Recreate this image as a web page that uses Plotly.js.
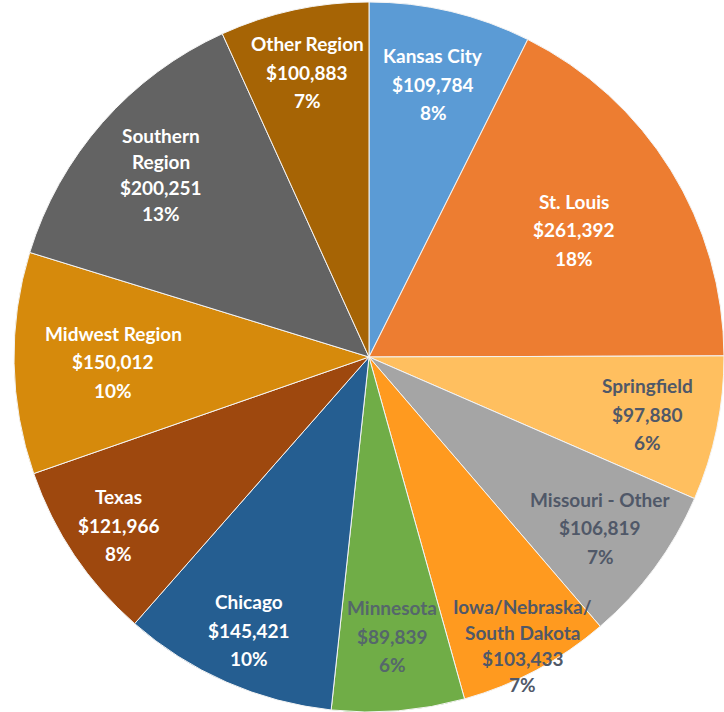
<!DOCTYPE html>
<html>
<head>
<meta charset="utf-8">
<script src="https://cdn.plot.ly/plotly-3.0.1.min.js"></script>
<style>
  html, body { margin: 0; padding: 0; background: #fff; }
  #pie { width: 724px; height: 712px; }
</style>
</head>
<body>
<div id="pie"></div>
<script>
// slices clockwise from 12 o'clock
const regions = ['Kansas City', 'St. Louis', 'Springfield', 'Missouri - Other',
    'Iowa/Nebraska/<br>South Dakota', 'Minnesota', 'Chicago', 'Texas',
    'Midwest Region', 'Southern<br>Region', 'Other Region'];
const sales = [109784, 261392, 97880, 106819, 103433, 89839, 145421, 121966, 150012, 200251, 100883];
const pctLabels = ['8%', '18%', '6%', '7%', '7%', '6%', '10%', '8%', '10%', '13%', '7%'];

// styling
const sliceColors = ['#5B9BD5', '#ED7D31', '#FFBF5F', '#A5A5A5', '#FF9A1F', '#70AD47',
    '#255E91', '#9E480E', '#D68A0C', '#636363', '#A66405'];
const textColors = ['#fff', '#fff', '#505868', '#505868', '#505868', '#55676B',
    '#fff', '#fff', '#fff', '#fff', '#fff'];
// how far out along the slice bisector each label sits (fraction of radius)
const labelRadius = [0.79, 0.68, 0.80, 0.81, 0.92, 0.79, 0.84, 0.85, 0.72, 0.78, 0.82];

const fmt = v => '$' + v.toLocaleString('en-US');

var trace = [{
    type: 'pie',
    labels: regions,
    values: sales,
    textinfo: 'none',
    hovertext: sales.map((v, i) => regions[i] + '<br>' + fmt(v) + '<br>' + pctLabels[i]),
    hoverinfo: 'text',
    sort: false,
    direction: 'clockwise',
    rotation: 0,
    marker: {
        colors: sliceColors,
        line: { color: '#f4f4f4', width: 1 }
    }
}];

// labels at each slice bisector, one annotation per text line
const total = sales.reduce((p, c) => p + c, 0);
let annotations = [];
let cum = 0;
for (let i = 0; i < sales.length; ++i) {
    let mid = (cum + sales[i] / 2) / total * 2 * Math.PI;
    cum += sales[i];
    let x = 0.5 + 0.5 * labelRadius[i] * Math.sin(mid);
    let y = 0.5 + 0.5 * labelRadius[i] * Math.cos(mid);
    let lines = (regions[i] + '<br>' + fmt(sales[i]) + '<br>' + pctLabels[i]).split('<br>');
    let gap = lines.length > 3 ? 26 : 28.5;
    for (let k = 0; k < lines.length; ++k) {
        annotations.push({
            xref: 'paper', yref: 'paper',
            x: x, y: y,
            xanchor: 'center', yanchor: 'middle',
            yshift: ((lines.length - 1) / 2 - k) * gap,
            text: lines[k],
            showarrow: false,
            font: { family: 'Lato, sans-serif', size: 19, color: textColors[i], weight: 'bold' }
        });
    }
}

var layout = {
    width: 724,
    height: 712,
    showlegend: false,
    paper_bgcolor: '#fff',
    margin: { l: 14, r: 0, t: 2, b: 0 },
    annotations: annotations
};

Plotly.newPlot('pie', trace, layout, { displayModeBar: false });
</script>
</body>
</html>
